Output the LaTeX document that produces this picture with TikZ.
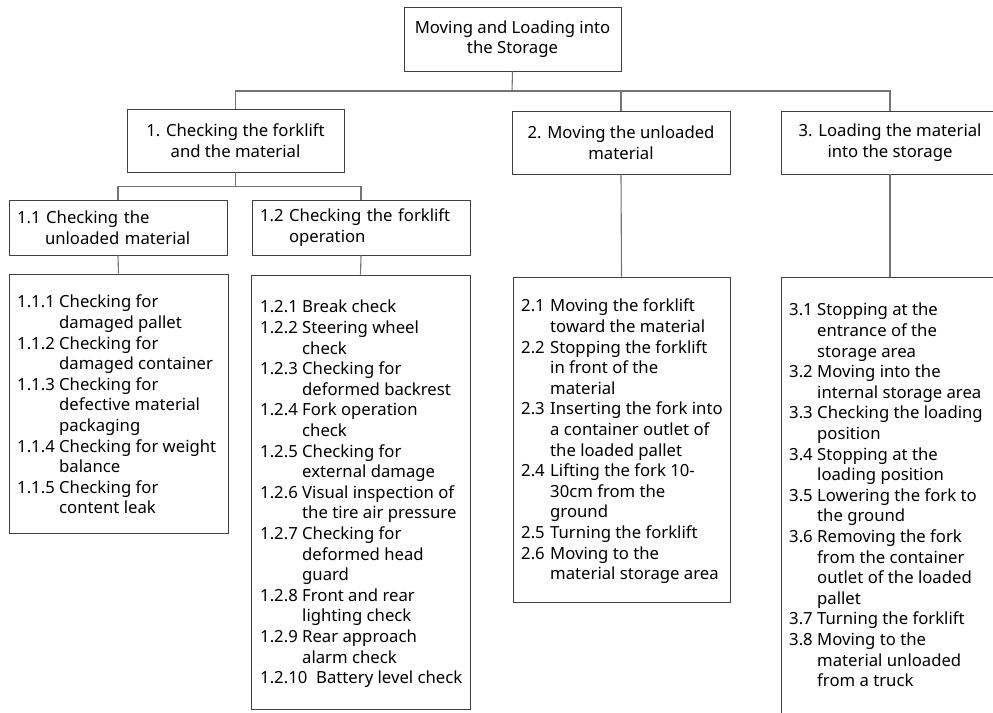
\documentclass[tikz,border=0pt]{standalone}
\usepackage{fontspec}
\setmainfont{Noto Sans}
\usepackage{array}
\tikzset{
  box/.style={draw=black!75, line width=0.9pt, inner sep=0pt, font=\fontsize{16.7pt}{20.6pt}\selectfont},
  conn/.style={draw=black!55, line width=1.1pt},
  listtext/.style={inner sep=0pt, font=\fontsize{16.7pt}{20.6pt}\selectfont},
}
\begin{document}
\begin{tikzpicture}[x=1pt,y=1pt]
\useasboundingbox (0,0) rectangle (993,712);
\clip (0,0) rectangle (993,712);
\fill[white] (0,0) rectangle (993,712);
% header boxes
\node[box, minimum width=217pt, minimum height=64pt, align=center] (root) at (512.5,673) {Moving and Loading into\\the Storage};
\node[box, minimum width=217pt, minimum height=63pt, align=center] (n1) at (235.5,571.5) {1. Checking the forklift\\and the material};
\node[box, minimum width=218pt, minimum height=63pt, align=center] (n2) at (621,569.5) {2. Moving the unloaded\\material};
\node[box, minimum width=218pt, minimum height=63pt, align=center] (n3) at (890,569.5) {3. Loading the material\\into the storage};
\node[box, minimum height=55pt, text width=202pt, inner xsep=8pt, align=left] (n11) at (118,484.5) {1.1 Checking the\\\hspace*{28pt}unloaded material};
\node[box, minimum height=55pt, text width=202pt, inner xsep=8pt, align=left] (n12) at (361,484.5) {1.2 Checking the forklift\\\hspace*{29pt}operation};
% list boxes
\node[box, minimum width=219pt, minimum height=259pt] (l11) at (118.5,308.5) {};
\node[box, minimum width=219pt, minimum height=434pt] (l12) at (360.5,220) {};
\node[box, minimum width=217pt, minimum height=325pt] (l2) at (621.5,272.5) {};
\node[box, minimum width=218pt, minimum height=453pt] (l3) at (890,208.5) {};
% list texts
\node[listtext, anchor=base west] (t11) at (17,404) {\begin{tabular}[t]{@{}p{42pt}@{}l@{}}
1.1.1 & Checking for\\ & damaged pallet\\
1.1.2 & Checking for\\ & damaged container\\
1.1.3 & Checking for\\ & defective material\\ & packaging\\
1.1.4 & Checking for weight\\ & balance\\
1.1.5 & Checking for\\ & content leak
\end{tabular}};
\node[listtext, anchor=base west] (t12) at (260,399) {\begin{tabular}[t]{@{}p{42pt}@{}l@{}}
1.2.1 & Break check\\
1.2.2 & Steering wheel\\ & check\\
1.2.3 & Checking for\\ & deformed backrest\\
1.2.4 & Fork operation\\ & check\\
1.2.5 & Checking for\\ & external damage\\
1.2.6 & Visual inspection of\\ & the tire air pressure\\
1.2.7 & Checking for\\ & deformed head\\ & guard\\
1.2.8 & Front and rear\\ & lighting check\\
1.2.9 & Rear approach\\ & alarm check\\
\multicolumn{2}{@{}l@{}}{\makebox[56pt][l]{1.2.10}Battery level check}
\end{tabular}};
\node[listtext, anchor=base west] (t2) at (521,400) {\begin{tabular}[t]{@{}p{29pt}@{}l@{}}
2.1 & Moving the forklift\\ & toward the material\\
2.2 & Stopping the forklift\\ & in front of the\\ & material\\
2.3 & Inserting the fork into\\ & a container outlet of\\ & the loaded pallet\\
2.4 & Lifting the fork 10-\\ & 30cm from the\\ & ground\\
2.5 & Turning the forklift\\
2.6 & Moving to the\\ & material storage area
\end{tabular}};
\node[listtext, anchor=base west] (t3) at (789,396) {\begin{tabular}[t]{@{}p{28pt}@{}l@{}}
3.1 & Stopping at the\\ & entrance of the\\ & storage area\\
3.2 & Moving into the\\ & internal storage area\\
3.3 & Checking the loading\\ & position\\
3.4 & Stopping at the\\ & loading position\\
3.5 & Lowering the fork to\\ & the ground\\
3.6 & Removing the fork\\ & from the container\\ & outlet of the loaded\\ & pallet\\
3.7 & Turning the forklift\\
3.8 & Moving to the\\ & material unloaded\\ & from a truck
\end{tabular}};
% connectors
\coordinate (b0) at (512,621);
\draw[conn] (root.south) -- (b0);
\draw[conn] (n1.north) |- (b0) -| (n3.north);
\draw[conn] (n2.north) -- (n2.north |- b0);
\draw[conn] (n1.south) -- ++(0,-14) coordinate (b1);
\draw[conn] (n11.north) |- (b1) -| (n12.north);
\draw[conn] (n11.south) -- (l11.north);
\draw[conn] (n12.south) -- (l12.north);
\draw[conn] (n2.south) -- (l2.north);
\draw[conn] (n3.south) -- (l3.north);
\end{tikzpicture}
\end{document}
